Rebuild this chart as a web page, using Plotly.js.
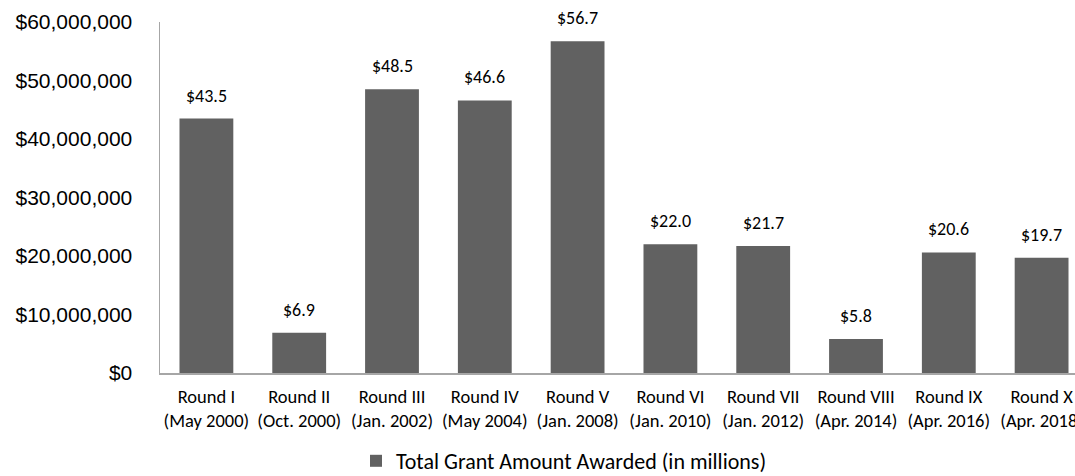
<!DOCTYPE html>
<html>
<head>
<meta charset="utf-8">
<script src="https://cdn.plot.ly/plotly-3.0.1.min.js"></script>
<style>
html,body{margin:0;padding:0;overflow:hidden;background:#fff;width:1075px;height:476px;}
#chart{width:1100px;height:476px;}
</style>
</head>
<body>
<div id="chart"></div>
<script>
const categories = [
  "Round I<br>(May 2000)", "Round II<br>(Oct. 2000)", "Round III<br>(Jan. 2002)",
  "Round IV<br>(May 2004)", "Round V<br>(Jan. 2008)", "Round VI<br>(Jan. 2010)",
  "Round VII<br>(Jan. 2012)", "Round VIII<br>(Apr. 2014)", "Round IX<br>(Apr. 2016)",
  "Round X<br>(Apr. 2018)"
];
const valuesMillions = [43.5, 6.9, 48.5, 46.6, 56.7, 22.0, 21.7, 5.8, 20.6, 19.7];
const seriesName = "Total Grant Amount Awarded (in millions)";
const yTicks = [0, 10000000, 20000000, 30000000, 40000000, 50000000, 60000000];

const values = valuesMillions.map(v => v * 1e6);
const labelText = valuesMillions.map(v => "$" + v.toFixed(1));

const calibriLike = "Carlito, Calibri, Open Sans, sans-serif";

const trace = {
  type: "bar",
  x: categories,
  y: values,
  name: seriesName,
  marker: {color: "#616161"},
  width: 0.58,
  hoverinfo: "none",
  showlegend: true
};

const annotations = categories.map((c, i) => ({
  x: c, y: values[i], xref: "x", yref: "y",
  text: labelText[i], showarrow: false,
  yanchor: "bottom", yshift: 10,
  font: {family: calibriLike, size: 18, color: "#000"}
}));

const layout = {
  width: 1100, height: 476,
  margin: {l: 160, r: 12, t: 22, b: 103, autoexpand: false},
  paper_bgcolor: "#fff", plot_bgcolor: "#fff",
  xaxis: {
    showline: true, linecolor: "#a6a6a6", linewidth: 1.5,
    ticks: "", showgrid: false, zeroline: false,
    tickfont: {family: calibriLike, size: 18.5, color: "#000"},
    tickangle: 0, automargin: false, ticklabelstandoff: 6
  },
  yaxis: {
    range: [0, 60000000], tickvals: yTicks, tickformat: "$,.0f",
    showline: true, linecolor: "#a6a6a6", linewidth: 1.5,
    ticks: "", showgrid: false, zeroline: false, ticklen: 0,
    tickfont: {family: "Arial, Liberation Sans, sans-serif", size: 21, color: "#000"},
    ticklabelstandoff: 22, automargin: false
  },
  legend: {
    orientation: "h", x: 356/1100, xref: "container", xanchor: "left",
    y: 36/476, yref: "container", yanchor: "top",
    font: {family: calibriLike, size: 22, color: "#000"},
    itemwidth: 30
  },
  annotations: annotations
};

Plotly.newPlot("chart", [trace], layout, {displayModeBar: false, staticPlot: true});
</script>
</body>
</html>
